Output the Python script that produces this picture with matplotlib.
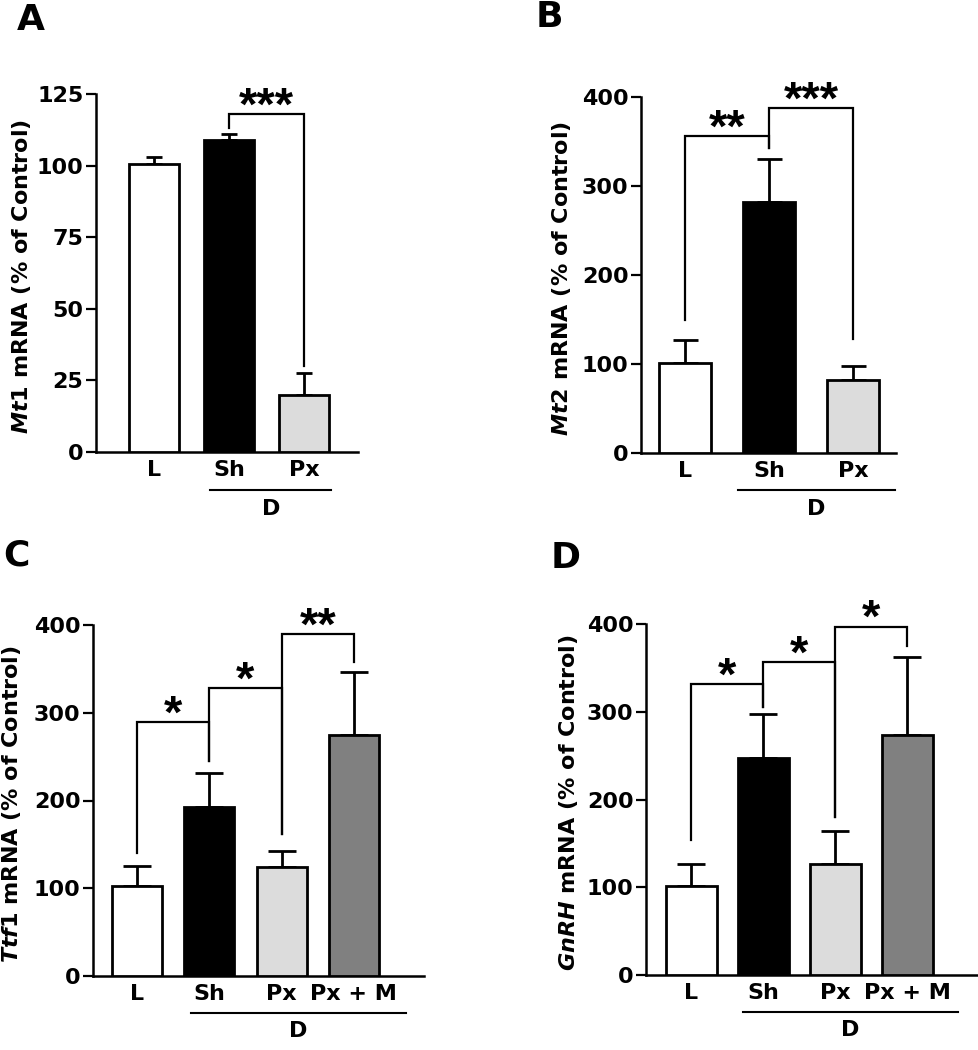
import matplotlib.pyplot as plt
import numpy as np

plt.rcParams['font.family'] = 'DejaVu Sans'
plt.rcParams['font.weight'] = 'bold'
plt.rcParams['mathtext.fontset'] = 'custom'
plt.rcParams['mathtext.it'] = 'DejaVu Sans:italic:bold'
plt.rcParams['mathtext.rm'] = 'DejaVu Sans:bold'

# group labels and fills
groups3 = ['L', 'Sh', 'Px']
groups4 = ['L', 'Sh', 'Px', 'Px + M']
fills = ['white', 'black', '#dcdcdc', '#808080']

# values (% of control), upward SEM
mt1_mean = [100.6, 109, 20]
mt1_sem = [2.5, 2, 7.5]
mt2_mean = [101, 282, 82]
mt2_sem = [26, 48, 16]
ttf1_mean = [102, 193, 124, 275]
ttf1_sem = [23, 38, 18, 72]
gnrh_mean = [101, 247, 127, 274]
gnrh_sem = [25, 50, 37, 88]

# significance brackets: (from, to, top, left leg end, right leg end, stars)
mt1_sig = [(1, 2, 118, 113, 30, '***')]
mt2_sig = [(0, 1, 356, 149, 343, '**'), (1, 2, 388, 343, 128, '***')]
ttf1_sig = [(0, 1, 289, 140, 245, '*'), (1, 2, 328, 245, 162, '*'),
            (2, 3, 390, 162, 358, '**')]
gnrh_sig = [(0, 1, 332, 154, 305, '*'), (1, 2, 357, 305, 180, '*'),
            (2, 3, 397, 180, 375, '*')]

fig = plt.figure(figsize=(9.79, 10.5), dpi=100)


def panel(rect, labels, means, sems, sigs, ymax, ystep, gene, letter, letter_xy,
          xlim, width, labelx, capsize, dspan):
    ax = fig.add_axes(rect)
    x = np.arange(len(labels))
    ax.bar(x, means, width=width, color=fills[:len(labels)], edgecolor='black',
           linewidth=2, zorder=3)
    ax.errorbar(x, means, yerr=[np.zeros(len(x)), sems], fmt='none', ecolor='black',
                elinewidth=2, capsize=capsize, capthick=2, zorder=2)
    for i, j, top, lb, rb, star in sigs:
        ax.plot([x[i], x[i], x[j], x[j]], [lb, top, top, rb], color='black',
                lw=1.6, clip_on=False, solid_joinstyle='miter')
        ax.annotate(star, xy=((x[i] + x[j]) / 2, top), xytext=(0, -4),
                    textcoords='offset points', ha='center', va='baseline',
                    fontsize=34, fontweight='bold', family='Liberation Sans')
    ax.set_xlim(*xlim)
    ax.set_ylim(0, ymax)
    ax.set_yticks(np.arange(0, ymax + 1, ystep))
    ax.set_xticks(x)
    ax.set_xticklabels(labels)
    ax.tick_params(axis='x', length=0, pad=6, labelsize=16)
    ax.tick_params(axis='y', length=7, width=1.6, pad=2, labelsize=16)
    for s in ['top', 'right']:
        ax.spines[s].set_visible(False)
    for s in ['left', 'bottom']:
        ax.spines[s].set_linewidth(1.8)
    ax.set_ylabel(r'$\mathit{' + gene + r'}$ mRNA (% of Control)', fontsize=16,
                  fontweight='bold')
    ax.yaxis.set_label_coords(labelx, 0.49)
    # D group underline
    tr = ax.get_xaxis_transform()
    ax.plot(dspan, [-0.105, -0.105], transform=tr, color='black', lw=1.5, clip_on=False)
    ax.text(sum(dspan) / 2, -0.158, 'D', transform=tr, ha='center', va='center',
            fontsize=16, fontweight='bold')
    fig.text(letter_xy[0] / 979, 1 - letter_xy[1] / 1050, letter, fontsize=26,
             fontweight='bold', ha='left', va='baseline')
    return ax


panel([96 / 979, 1 - 452 / 1050, 262 / 979, 358 / 1050], groups3, mt1_mean, mt1_sem,
      mt1_sig, 125, 25, 'Mt1', 'A', (17, 30), (-0.773, 2.713), 0.667, -0.24, 6,
      [0.75, 2.36])
panel([641 / 979, 1 - 453 / 1050, 255 / 979, 356 / 1050], groups3, mt2_mean, mt2_sem,
      mt2_sig, 400, 100, 'Mt2', 'B', (536, 27), (-0.524, 2.51), 0.62, -0.265, 9,
      [0.63, 2.5])
panel([93 / 979, 1 - 976 / 1050, 331 / 979, 351 / 1050], groups4, ttf1_mean, ttf1_sem,
      ttf1_sig, 400, 100, 'Ttf1', 'C', (3, 566), (-0.61, 3.97), 0.69, -0.21, 10,
      [0.75, 3.72])
panel([646 / 979, 1 - 975 / 1050, 332 / 979, 351 / 1050], groups4, gnrh_mean, gnrh_sem,
      gnrh_sig, 400, 100, 'GnRH', 'D', (551, 568), (-0.63, 3.98), 0.7, -0.2, 10,
      [0.72, 3.7])

fig.savefig('out.png', dpi=100)
